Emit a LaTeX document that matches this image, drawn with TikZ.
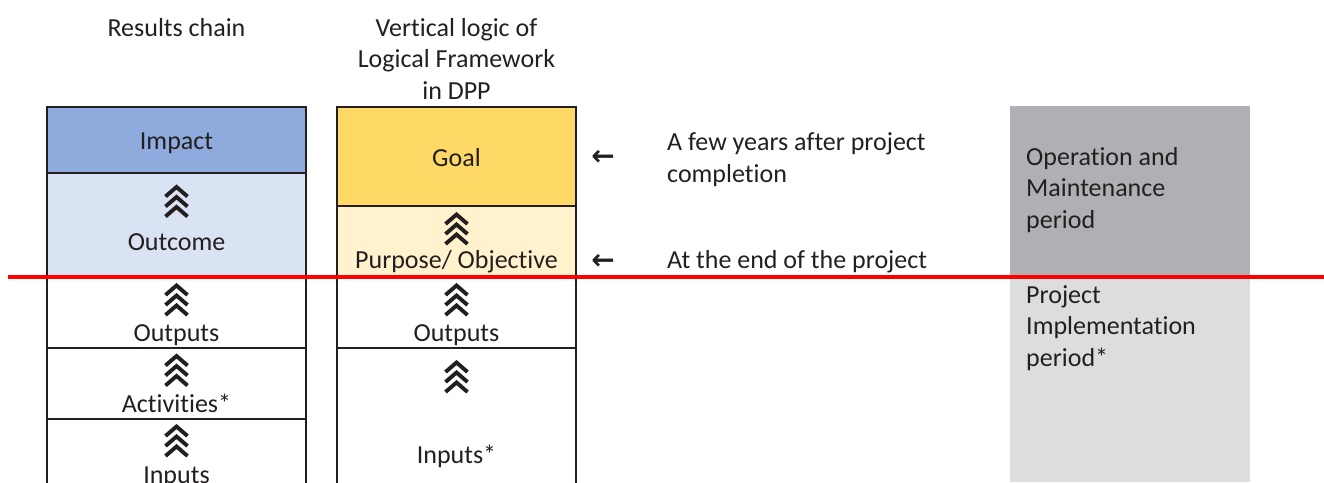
\documentclass[tikz,border=0pt]{standalone}
\usepackage{fontspec}
\setmainfont{Carlito}[Ligatures={NoCommon,NoRequired,NoContextual}]
\newfontfamily\arrowfont{DejaVu Sans}
\definecolor{impactc}{HTML}{8FAADC}
\definecolor{outcomec}{HTML}{DAE3F3}
\definecolor{goalc}{HTML}{FFD966}
\definecolor{purposec}{HTML}{FFF2CC}
\definecolor{darkg}{HTML}{AEB0B3}
\definecolor{lightg}{HTML}{DCDDDF}
\definecolor{ink}{HTML}{231F20}
\begin{document}
\begin{tikzpicture}[x=1pt,y=-1pt,
  cell/.style={draw=ink,line width=2.6pt},
  lbl/.style={anchor=base,inner sep=0pt,text=ink,font=\fontsize{26}{31.5}\selectfont},
  lbll/.style={anchor=base west,inner sep=0pt,text=ink,font=\fontsize{26}{31.5}\selectfont},
  arr/.style={anchor=center,inner sep=0pt,text=ink,font=\arrowfont\bfseries\fontsize{28}{32}\selectfont},
  chevs/.pic={\foreach \d in {-11.5,-1.5,8.5}{\draw[ink,line width=3.9pt,miter limit=10] (-11,\d+9.5) -- (0,\d) -- (11,\d+9.5);}}
]
\useasboundingbox (0,0) rectangle (1324,482);
% gray period boxes
\fill[darkg] (1010,106) rectangle (1250,277);
\fill[lightg] (1010,277) rectangle (1250,482);
% left column
\path[cell,fill=impactc] (47,107) rectangle (306,173);
\path[cell,fill=outcomec] (47,173) rectangle (306,277);
\path[cell,fill=white] (47,277) rectangle (306,348);
\path[cell,fill=white] (47,348) rectangle (306,419);
\path[cell,fill=white] (47,419) rectangle (306,495);
% middle column
\path[cell,fill=goalc] (337,107) rectangle (576,206);
\path[cell,fill=purposec] (337,206) rectangle (576,277);
\path[cell,fill=white] (337,277) rectangle (576,348);
\path[cell,fill=white] (337,348) rectangle (576,495);
% titles
\node[lbl] (t1) at (176.5,36) {Results chain};
\node[lbl] (t2a) at (456.5,36) {Vertical logic of};
\node[lbl] (t2b) at (456.5,67.5) {Logical Framework};
\node[lbl] (t2c) at (456.5,99) {in DPP};
% left texts
\node[lbl] (impact) at (176.5,149) {Impact};
\pic at (176.5,198.5) {chevs};
\node[lbl] (outcome) at (176.5,250) {Outcome};
\pic at (176.5,297) {chevs};
\node[lbl] (outputsL) at (176.5,341) {Outputs};
\pic at (176.5,367.5) {chevs};
\node[lbl] (activities) at (176.5,412) {Activities*};
\pic at (176.5,438) {chevs};
\node[lbl] (inputsL) at (176.5,483) {Inputs};
% middle texts
\node[lbl] (goal) at (456.5,166) {Goal};
\pic at (456.5,226) {chevs};
\node[lbl] (purpose) at (456.5,268) {Purpose/ Objective};
\pic at (456.5,297) {chevs};
\node[lbl] (outputsM) at (456.5,341) {Outputs};
\pic at (456.5,374) {chevs};
\node[lbl] (inputsM) at (456.5,463) {Inputs*};
% arrows and timing
\node[arr] (a1) at (603,158) {←};
\node[arr] (a2) at (603,262) {←};
\node[lbll] (few1) at (667,150) {A few years after project};
\node[lbll] (few2) at (667,182) {completion};
\node[lbll] (endp) at (667,268) {At the end of the project};
% period texts
\node[lbll] (om1) at (1026,165) {Operation and};
\node[lbll] (om2) at (1026,196.5) {Maintenance};
\node[lbll] (om3) at (1026,228) {period};
\node[lbll] (pi1) at (1026,303) {Project};
\node[lbll] (pi2) at (1026,334.5) {Implementation};
\node[lbll] (pi3) at (1026,366) {period*};
% red divider
\draw[red,line width=4pt] (8,277) -- (1324,277);
\end{tikzpicture}
\end{document}
